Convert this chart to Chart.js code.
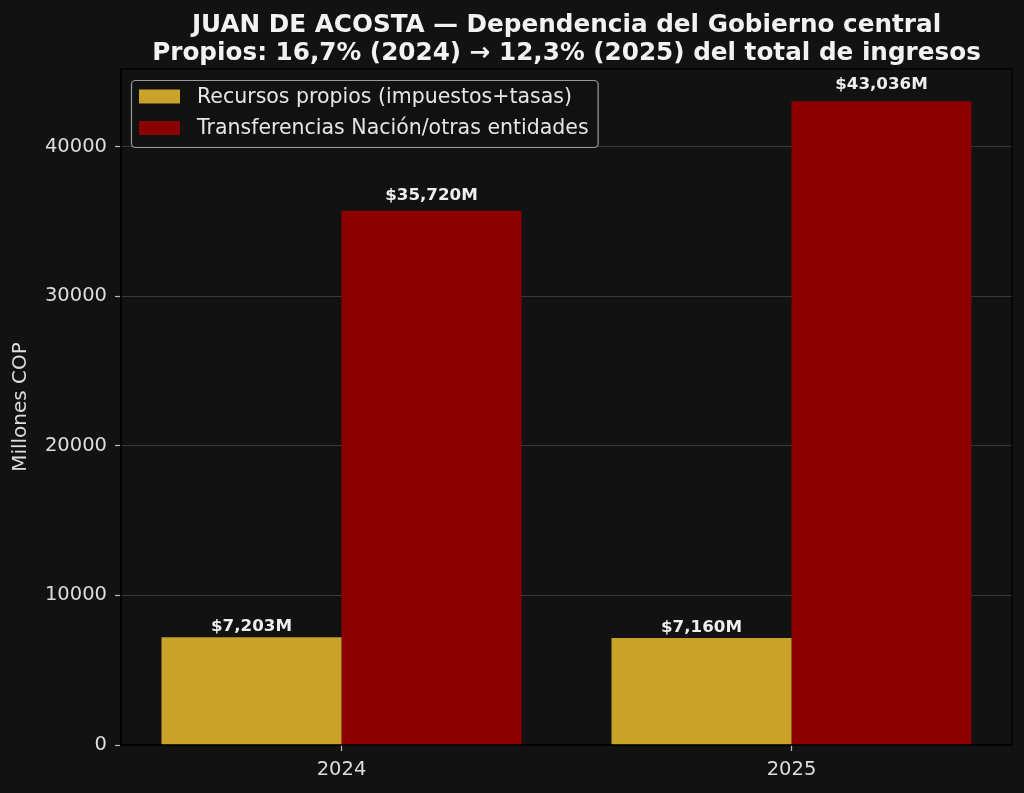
<!DOCTYPE html>
<html>
<head>
<meta charset="utf-8">
<script src="https://cdn.jsdelivr.net/npm/chart.js@4.4.1/dist/chart.umd.min.js"></script>
<style>
  html, body { margin: 0; padding: 0; background: #121212; }
  canvas { display: block; }
</style>
</head>
<body>
<canvas id="c" width="1024" height="793"></canvas>
<script>
// ---- data ----
const years = ["2024", "2025"];
const recursosPropios = [7203, 7160];
const transferencias = [35720, 43036];
const yTicks = [0, 10000, 20000, 30000, 40000];
const seriesLabels = ["Recursos propios (impuestos+tasas)", "Transferencias Nación/otras entidades"];
const titleLines = ["JUAN DE ACOSTA — Dependencia del Gobierno central",
                    "Propios: 16,7% (2024) → 12,3% (2025) del total de ingresos"];
const yAxisTitle = "Millones COP";
const yMax = 45188;

const FONT = "'DejaVu Sans', 'Liberation Sans', sans-serif";

function fmt(v) { return "$" + v.toLocaleString("en-US") + "M"; }

const titlePlugin = {
  id: 'titleP',
  afterDraw(chart) {
    const ctx = chart.ctx, ca = chart.chartArea;
    const cx = (ca.left + ca.right) / 2;
    ctx.save();
    ctx.fillStyle = '#f2f2f2';
    ctx.font = "bold 24.7px " + FONT;
    ctx.textAlign = 'center';
    ctx.textBaseline = 'alphabetic';
    ctx.fillText(titleLines[0], cx, 32);
    ctx.fillText(titleLines[1], cx, 60);
    ctx.restore();
  }
};

const labelPlugin = {
  id: 'barLabels',
  afterDatasetsDraw(chart) {
    const ctx = chart.ctx, ys = chart.scales.y;
    ctx.save();
    ctx.fillStyle = '#eeeeee';
    ctx.font = "bold 16.7px " + FONT;
    ctx.textAlign = 'center';
    ctx.textBaseline = 'alphabetic';
    chart.data.datasets.forEach((ds, di) => {
      const meta = chart.getDatasetMeta(di);
      meta.data.forEach((bar, i) => {
        const v = ds.data[i].y;
        const yy = ys.getPixelForValue(v + 320 + 0.0117 * v);
        ctx.fillText(fmt(v), bar.x, yy);
      });
    });
    ctx.restore();
  }
};

const framePlugin = {
  id: 'frame',
  afterDraw(chart) {
    const ctx = chart.ctx, ca = chart.chartArea;
    ctx.save();
    ctx.strokeStyle = '#000000';
    ctx.lineWidth = 1.2;
    ctx.strokeRect(ca.left, ca.top, ca.right - ca.left, ca.bottom - ca.top);
    ctx.restore();
  }
};

const legendPlugin = {
  id: 'legendBox',
  afterDraw(chart) {
    const ctx = chart.ctx, ca = chart.chartArea;
    ctx.save();
    ctx.font = "20.5px " + FONT;
    const x0 = ca.left + 10, y0 = ca.top + 11;
    let maxW = 0;
    chart.data.datasets.forEach(ds => { maxW = Math.max(maxW, ctx.measureText(ds.label).width); });
    const w = 8 + 41 + 17 + maxW + 9, h = 67;
    ctx.beginPath();
    ctx.roundRect(x0 + 0.5, y0 + 0.5, w, h, 4);
    ctx.fillStyle = 'rgba(18,18,18,0.8)';
    ctx.fill();
    ctx.strokeStyle = '#9a9a9a';
    ctx.lineWidth = 1.2;
    ctx.stroke();
    const rows = [y0 + 16.5, y0 + 48];
    chart.data.datasets.forEach((ds, i) => {
      ctx.fillStyle = ds.backgroundColor;
      ctx.fillRect(x0 + 8, rows[i] - 7, 41, 14);
      ctx.fillStyle = '#e6e6e6';
      ctx.textAlign = 'left';
      ctx.textBaseline = 'middle';
      ctx.fillText(ds.label, x0 + 66, rows[i] + 1);
    });
    ctx.restore();
  }
};

new Chart(document.getElementById('c'), {
  type: 'bar',
  data: {
    datasets: [
      {
        label: seriesLabels[0],
        data: years.map((y, i) => ({ x: i, y: recursosPropios[i] })),
        backgroundColor: '#C9A22A',
        borderWidth: 0,
        categoryPercentage: 0.8,
        barPercentage: 1.0
      },
      {
        label: seriesLabels[1],
        data: years.map((y, i) => ({ x: i, y: transferencias[i] })),
        backgroundColor: '#8B0000',
        borderWidth: 0,
        categoryPercentage: 0.8,
        barPercentage: 1.0
      }
    ]
  },
  options: {
    responsive: false,
    animation: false,
    devicePixelRatio: 1,
    layout: { padding: { top: 69, right: 12, left: 0, bottom: 0 } },
    plugins: { legend: { display: false }, title: { display: false }, tooltip: { enabled: false } },
    scales: {
      x: {
        type: 'linear',
        offset: false,
        min: -0.49,
        max: 1.49,
        afterBuildTicks: (s) => { s.ticks = years.map((y, i) => ({ value: i })); },
        afterFit: (s) => { s.height = 48; },
        ticks: {
          autoSkip: false, maxRotation: 0, minRotation: 0,
          color: '#dddddd', font: { family: FONT, size: 19.5 }, padding: 7,
          callback: (v) => years[v]
        },
        grid: { offset: false, drawOnChartArea: false, drawTicks: true, tickLength: 6, tickColor: '#bbbbbb', tickWidth: 1.2 },
        border: { display: true, color: '#000000', width: 1.2 }
      },
      y: {
        type: 'linear',
        min: 0,
        max: yMax,
        z: 1,
        afterBuildTicks: (s) => { s.ticks = yTicks.map(v => ({ value: v })); },
        afterFit: (s) => { s.width = 121; },
        ticks: {
          color: '#dddddd', font: { family: FONT, size: 19.5 }, padding: 8,
          callback: (v) => String(v)
        },
        grid: {
          color: (c) => (c.tick && c.tick.value === 0) ? 'rgba(0,0,0,0)' : 'rgba(255,255,255,0.17)',
          lineWidth: 1,
          tickLength: 6, tickColor: '#bbbbbb', tickWidth: 1.2
        },
        border: { display: true, color: '#000000', width: 1.2 },
        title: {
          display: true, text: yAxisTitle, color: '#dddddd',
          font: { family: FONT, size: 20 }, padding: { top: 9, bottom: 0 }
        }
      }
    }
  },
  plugins: [titlePlugin, labelPlugin, framePlugin, legendPlugin]
});
</script>
</body>
</html>
